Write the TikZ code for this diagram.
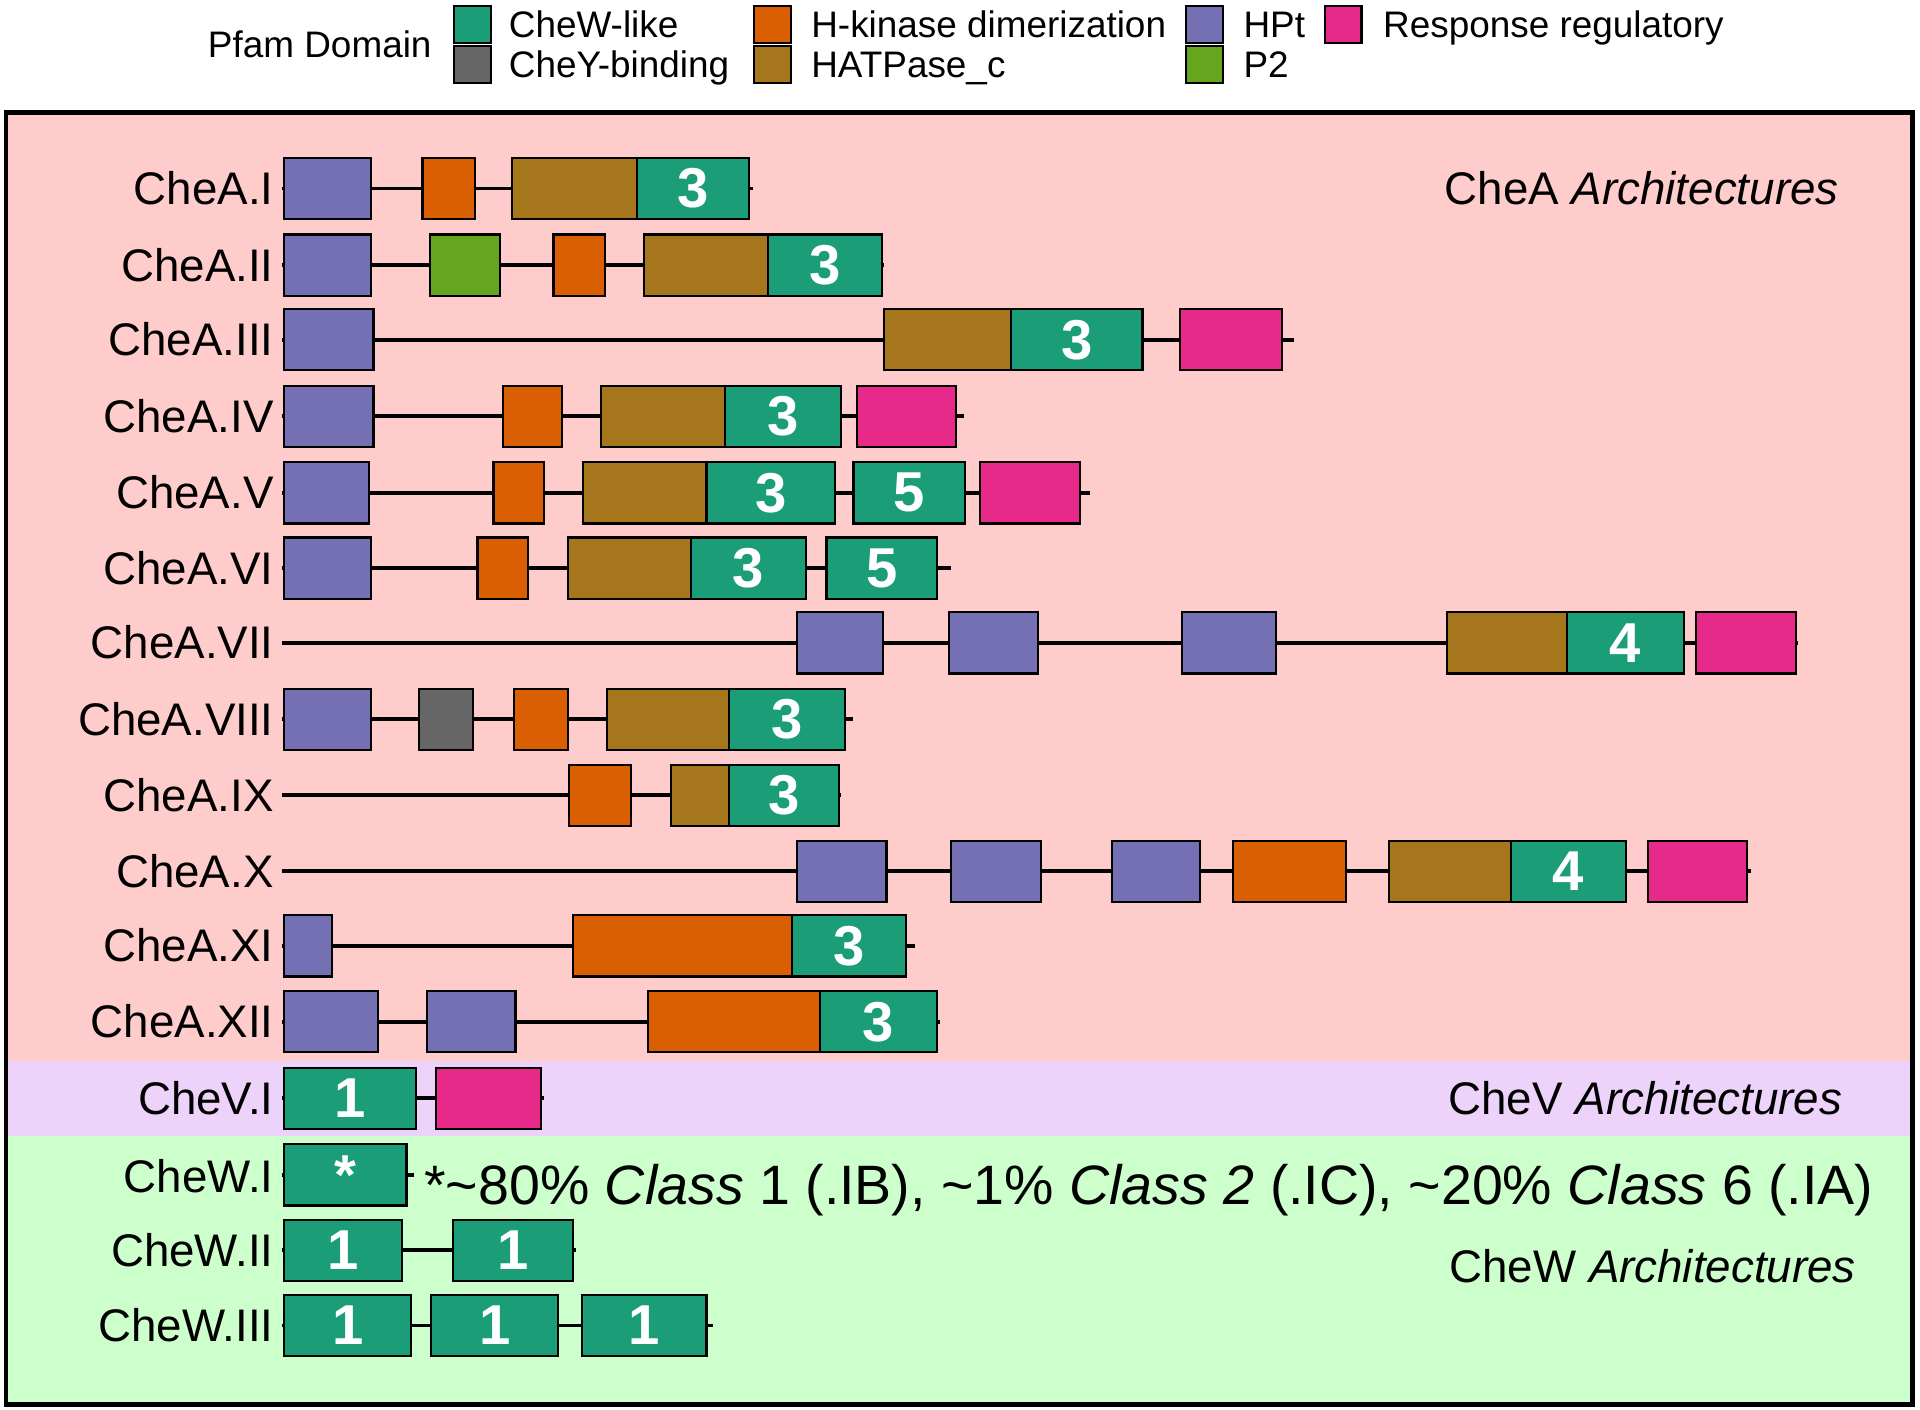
\documentclass[tikz,border=0pt]{standalone}
\usepackage{fontspec}
\setmainfont{Liberation Sans}
\definecolor{cwlike}{HTML}{1B9E77}
\definecolor{cheyb}{HTML}{666666}
\definecolor{hkin}{HTML}{D95F02}
\definecolor{hatp}{HTML}{A6761D}
\definecolor{hpt}{HTML}{7570B3}
\definecolor{ptwo}{HTML}{66A61E}
\definecolor{rreg}{HTML}{E7298A}
\definecolor{bgpink}{HTML}{FFCCCC}
\definecolor{bgpurple}{HTML}{EDD3FA}
\definecolor{bggreen}{HTML}{CCFFCC}
\newcommand\Dbox[6]{\node[dombox,fill=#5,minimum width={(#3-#2)*0.3484pt},anchor=west] (#1) at (#2,#4) {#6};}
\begin{document}
\begin{tikzpicture}[x=0.3484pt,y=-0.3484pt,
  dombox/.style={draw=black,line width=0.6pt,inner sep=0pt,outer sep=0pt,minimum height=50*0.3484pt,text=white,font=\fontsize{16}{16}\selectfont\bfseries},
  backbone/.style={line width=1.1pt,black},
  lab/.style={anchor=base east,inner sep=0pt,font=\fontsize{13}{13}\selectfont},
  ttl/.style={anchor=base east,inner sep=0pt,font=\fontsize{13}{13}\selectfont},
  swatch/.style={draw=black,line width=0.6pt,inner sep=0pt,minimum width=30*0.3484pt,minimum height=30*0.3484pt,anchor=north west},
  legtxt/.style={anchor=base west,inner sep=0pt,font=\fontsize{10.5}{10.5}\selectfont}]
\useasboundingbox (0,0) rectangle (1568,1151);
% backgrounds
\fill[bgpink] (5,92) rectangle (1562,866.5);
\fill[bgpurple] (5,866.5) rectangle (1562,927.5);
\fill[bggreen] (5,927.5) rectangle (1562,1147);
\draw[line width=1.3pt] (5,92) rectangle (1562,1147);
% legend
\node[legtxt,anchor=base east] (legtitle) at (353,47) {Pfam Domain};
\node[swatch,fill=cwlike] (sw1) at (370,4) {};
\node[swatch,fill=cheyb] (sw2) at (370,37) {};
\node[swatch,fill=hkin] (sw3) at (615,4) {};
\node[swatch,fill=hatp] (sw4) at (615,37) {};
\node[swatch,fill=hpt] (sw5) at (968,4) {};
\node[swatch,fill=ptwo] (sw6) at (968,37) {};
\node[swatch,fill=rreg] (sw7) at (1081,4) {};
\node[legtxt] (lt1) at (415,31) {CheW-like};
\node[legtxt] (lt2) at (415,63) {CheY-binding};
\node[legtxt] (lt3) at (662,31) {H-kinase dimerization};
\node[legtxt] (lt4) at (662,63) {HATPase\_c};
\node[legtxt] (lt5) at (1015,31) {HPt};
\node[legtxt] (lt6) at (1015,63) {P2};
\node[legtxt] (lt7) at (1129,31) {Response regulatory};
% titles
\node[ttl] (tA) at (1502,167) {CheA \textit{Architectures}};
\node[ttl] (tV) at (1505,910) {CheV \textit{Architectures}};
\node[ttl] (tW) at (1516,1047) {CheW \textit{Architectures}};
% labels
\node[lab] (l1) at (224,167) {CheA.I};
\node[lab] (l2) at (224,229.5) {CheA.II};
\node[lab] (l3) at (224,290.5) {CheA.III};
\node[lab] (l4) at (224,353) {CheA.IV};
\node[lab] (l5) at (224,415.5) {CheA.V};
\node[lab] (l6) at (224,477) {CheA.VI};
\node[lab] (l7) at (224,538) {CheA.VII};
\node[lab] (l8) at (224,600.5) {CheA.VIII};
\node[lab] (l9) at (224,662.5) {CheA.IX};
\node[lab] (l10) at (224,724.5) {CheA.X};
\node[lab] (l11) at (224,785.5) {CheA.XI};
\node[lab] (l12) at (224,847.5) {CheA.XII};
\node[lab] (lv1) at (224,910) {CheV.I};
\node[lab] (lw1) at (224,973.5) {CheW.I};
\node[lab] (lw2) at (224,1034) {CheW.II};
\node[lab] (lw3) at (224,1095.5) {CheW.III};
% row coordinates
\foreach \n/\y/\e in {1/154/615,2/216.5/722,3/277.5/1057,4/340/787,5/402.5/890,6/464/777,7/525/1468,8/587.5/697,9/649.5/687,10/711.5/1430,11/772.5/747,12/834.5/768,13/897/444,14/959.5/338,15/1021/470,16/1082.5/582}{
  \coordinate (s\n) at (230,\y);
  \coordinate (e\n) at (\e,\y);
}
% row 1
\Dbox{a1a}{232}{303}{154}{hpt}{}
\Dbox{a1b}{345}{388}{154}{hkin}{}
\Dbox{a1c}{418}{520}{154}{hatp}{}
\Dbox{a1d}{520}{612}{154}{cwlike}{3}
\draw[backbone] (s1) -- (a1a) (a1a) -- (a1b) (a1b) -- (a1c) (a1d) -- (e1);
% row 2
\Dbox{a2a}{232}{303}{216.5}{hpt}{}
\Dbox{a2b}{351}{408}{216.5}{ptwo}{}
\Dbox{a2c}{452}{494}{216.5}{hkin}{}
\Dbox{a2d}{526}{627}{216.5}{hatp}{}
\Dbox{a2e}{627}{720}{216.5}{cwlike}{3}
\draw[backbone] (s2) -- (a2a) (a2a) -- (a2b) (a2b) -- (a2c) (a2c) -- (a2d) (a2e) -- (e2);
% row 3
\Dbox{a3a}{232}{305}{277.5}{hpt}{}
\Dbox{a3b}{722}{826}{277.5}{hatp}{}
\Dbox{a3c}{826}{933}{277.5}{cwlike}{3}
\Dbox{a3d}{964}{1047}{277.5}{rreg}{}
\draw[backbone] (s3) -- (a3a) (a3a) -- (a3b) (a3c) -- (a3d) (a3d) -- (e3);
% row 4
\Dbox{a4a}{232}{305}{340}{hpt}{}
\Dbox{a4b}{411}{459}{340}{hkin}{}
\Dbox{a4c}{491}{592}{340}{hatp}{}
\Dbox{a4d}{592}{687}{340}{cwlike}{3}
\Dbox{a4e}{700}{781}{340}{rreg}{}
\draw[backbone] (s4) -- (a4a) (a4a) -- (a4b) (a4b) -- (a4c) (a4d) -- (a4e) (a4e) -- (e4);
% row 5
\Dbox{a5a}{232}{301}{402.5}{hpt}{}
\Dbox{a5b}{403}{444}{402.5}{hkin}{}
\Dbox{a5c}{476}{577}{402.5}{hatp}{}
\Dbox{a5d}{577}{682}{402.5}{cwlike}{3}
\Dbox{a5e}{697}{788}{402.5}{cwlike}{5}
\Dbox{a5f}{800}{882}{402.5}{rreg}{}
\draw[backbone] (s5) -- (a5a) (a5a) -- (a5b) (a5b) -- (a5c) (a5d) -- (a5e) (a5e) -- (a5f) (a5f) -- (e5);
% row 6
\Dbox{a6a}{232}{303}{464}{hpt}{}
\Dbox{a6b}{390}{431}{464}{hkin}{}
\Dbox{a6c}{464}{564}{464}{hatp}{}
\Dbox{a6d}{564}{658}{464}{cwlike}{3}
\Dbox{a6e}{675}{765}{464}{cwlike}{5}
\draw[backbone] (s6) -- (a6a) (a6a) -- (a6b) (a6b) -- (a6c) (a6d) -- (a6e) (a6e) -- (e6);
% row 7
\Dbox{a7a}{651}{721}{525}{hpt}{}
\Dbox{a7b}{775}{848}{525}{hpt}{}
\Dbox{a7c}{965}{1042}{525}{hpt}{}
\Dbox{a7d}{1182}{1280}{525}{hatp}{}
\Dbox{a7e}{1280}{1375}{525}{cwlike}{4}
\Dbox{a7f}{1385}{1467}{525}{rreg}{}
\draw[backbone] (s7) -- (a7a) (a7a) -- (a7b) (a7b) -- (a7c) (a7c) -- (a7d) (a7e) -- (a7f) (a7f) -- (e7);
% row 8
\Dbox{a8a}{232}{303}{587.5}{hpt}{}
\Dbox{a8b}{342}{386}{587.5}{cheyb}{}
\Dbox{a8c}{420}{464}{587.5}{hkin}{}
\Dbox{a8d}{496}{595}{587.5}{hatp}{}
\Dbox{a8e}{595}{690}{587.5}{cwlike}{3}
\draw[backbone] (s8) -- (a8a) (a8a) -- (a8b) (a8b) -- (a8c) (a8c) -- (a8d) (a8e) -- (e8);
% row 9
\Dbox{a9a}{465}{515}{649.5}{hkin}{}
\Dbox{a9b}{548}{595}{649.5}{hatp}{}
\Dbox{a9c}{595}{685}{649.5}{cwlike}{3}
\draw[backbone] (s9) -- (a9a) (a9a) -- (a9b) (a9c) -- (e9);
% row 10
\Dbox{a10a}{651}{724}{711.5}{hpt}{}
\Dbox{a10b}{777}{850}{711.5}{hpt}{}
\Dbox{a10c}{908}{980}{711.5}{hpt}{}
\Dbox{a10d}{1007}{1099}{711.5}{hkin}{}
\Dbox{a10e}{1134}{1234}{711.5}{hatp}{}
\Dbox{a10f}{1234}{1328}{711.5}{cwlike}{4}
\Dbox{a10g}{1346}{1427}{711.5}{rreg}{}
\draw[backbone] (s10) -- (a10a) (a10a) -- (a10b) (a10b) -- (a10c) (a10c) -- (a10d) (a10d) -- (a10e) (a10f) -- (a10g) (a10g) -- (e10);
% row 11
\Dbox{a11a}{232}{271}{772.5}{hpt}{}
\Dbox{a11b}{468}{647}{772.5}{hkin}{}
\Dbox{a11c}{647}{740}{772.5}{cwlike}{3}
\draw[backbone] (s11) -- (a11a) (a11a) -- (a11b) (a11c) -- (e11);
% row 12
\Dbox{a12a}{232}{309}{834.5}{hpt}{}
\Dbox{a12b}{349}{421}{834.5}{hpt}{}
\Dbox{a12c}{529}{670}{834.5}{hkin}{}
\Dbox{a12d}{670}{765}{834.5}{cwlike}{3}
\draw[backbone] (s12) -- (a12a) (a12a) -- (a12b) (a12b) -- (a12c) (a12d) -- (e12);
% CheV.I
\Dbox{v1a}{232}{340}{897}{cwlike}{1}
\Dbox{v1b}{356}{442}{897}{rreg}{}
\draw[backbone] (s13) -- (v1a) (v1a) -- (v1b) (v1b) -- (e13);
% CheW.I
\Dbox{w1a}{232}{332}{959.5}{cwlike}{*}
\draw[backbone] (s14) -- (w1a) (w1a) -- (e14);
\node[anchor=base west,inner sep=0pt,font=\fontsize{15.8}{15.8}\selectfont] (note) at (346,984) {*\textasciitilde80\% \textit{Class} 1 (.IB), \textasciitilde1\% \textit{Class 2} (.IC), \textasciitilde20\% \textit{Class} 6 (.IA)};
% CheW.II
\Dbox{w2a}{232}{328}{1021}{cwlike}{1}
\Dbox{w2b}{370}{468}{1021}{cwlike}{1}
\draw[backbone] (s15) -- (w2a) (w2a) -- (w2b) (w2b) -- (e15);
% CheW.III
\Dbox{w3a}{232}{336}{1082.5}{cwlike}{1}
\Dbox{w3b}{352}{456}{1082.5}{cwlike}{1}
\Dbox{w3c}{475}{577}{1082.5}{cwlike}{1}
\draw[backbone] (s16) -- (w3a) (w3a) -- (w3b) (w3b) -- (w3c) (w3c) -- (e16);
\end{tikzpicture}
\end{document}
